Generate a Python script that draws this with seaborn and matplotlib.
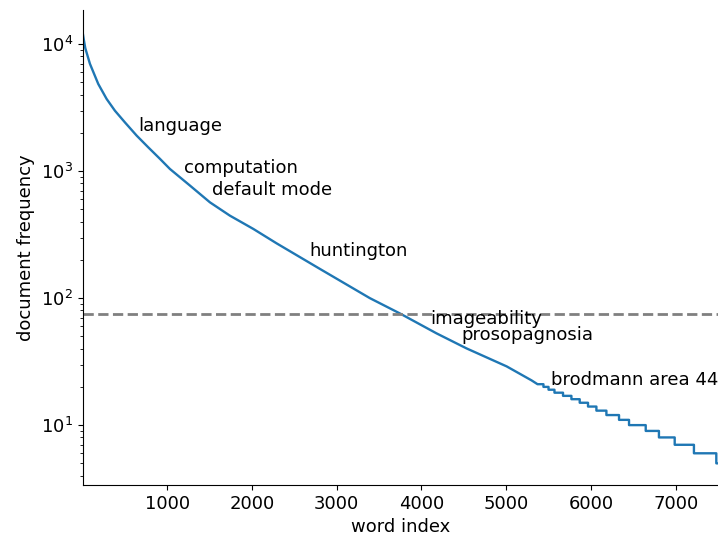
import numpy as np
import pandas as pd
import seaborn as sns
import matplotlib.pyplot as plt

# smooth part of the sorted document-frequency curve
curve_index = [1, 14, 33, 88, 186, 285, 383, 501, 639, 776, 914, 1032, 1268, 1504,
               1740, 2015, 2291, 2801, 3391, 3745, 4178, 4532, 5006, 5300]
curve_freq = [12500, 11000, 9300, 7000, 4860, 3700, 2990, 2420, 1905, 1540, 1250, 1040, 770, 568,
              446, 351, 270, 170, 100, 75.8, 52.8, 40.2, 29, 22.5]

# integer plateaus in the tail: value and the word index where it starts
step_value = [21, 20, 19, 18, 17, 16, 15, 14, 13, 12, 11, 10, 9, 8, 7, 6, 5]
step_start = [5370, 5440, 5500, 5570, 5671, 5770, 5868, 5966, 6065, 6183, 6332, 6450, 6647, 6803, 6989, 7216, 7480]
n_words = 7500

# annotated words
word_labels = ["language", "computation", "default mode", "huntington",
               "imageability", "prosopagnosia", "brodmann area 44"]
label_index = [655, 1197, 1527, 2672, 4099, 4473, 5534]
label_freq = [2065, 964, 647, 214, 62.4, 46.7, 20.6]

threshold = 75

# build the line
xs = list(curve_index)
ys = list(curve_freq)
step_end = step_start[1:] + [n_words]
for v, s, e in zip(step_value, step_start, step_end):
    xs += [s, e]
    ys += [v, v]
df = pd.DataFrame({"word index": xs, "document frequency": ys})

plt.rcParams["font.size"] = 13
fig = plt.figure(figsize=(7.18, 5.4), dpi=100)
ax = fig.add_axes([0.115, 0.102, 0.885, 0.879])

sns.lineplot(data=df, x="word index", y="document frequency", ax=ax,
             estimator=None, sort=False, color="tab:blue", linewidth=1.7)
ax.set_yscale("log")
ax.axhline(threshold, color="gray", linestyle="--", linewidth=2)

for w, xi, yi in zip(word_labels, label_index, label_freq):
    ax.text(xi, yi, w, fontsize=13)

ax.set_xlim(1, n_words)
ax.set_xlabel("word index")
ax.set_ylabel("document frequency")
sns.despine(ax=ax)

fig.savefig("out.png", dpi=100)
